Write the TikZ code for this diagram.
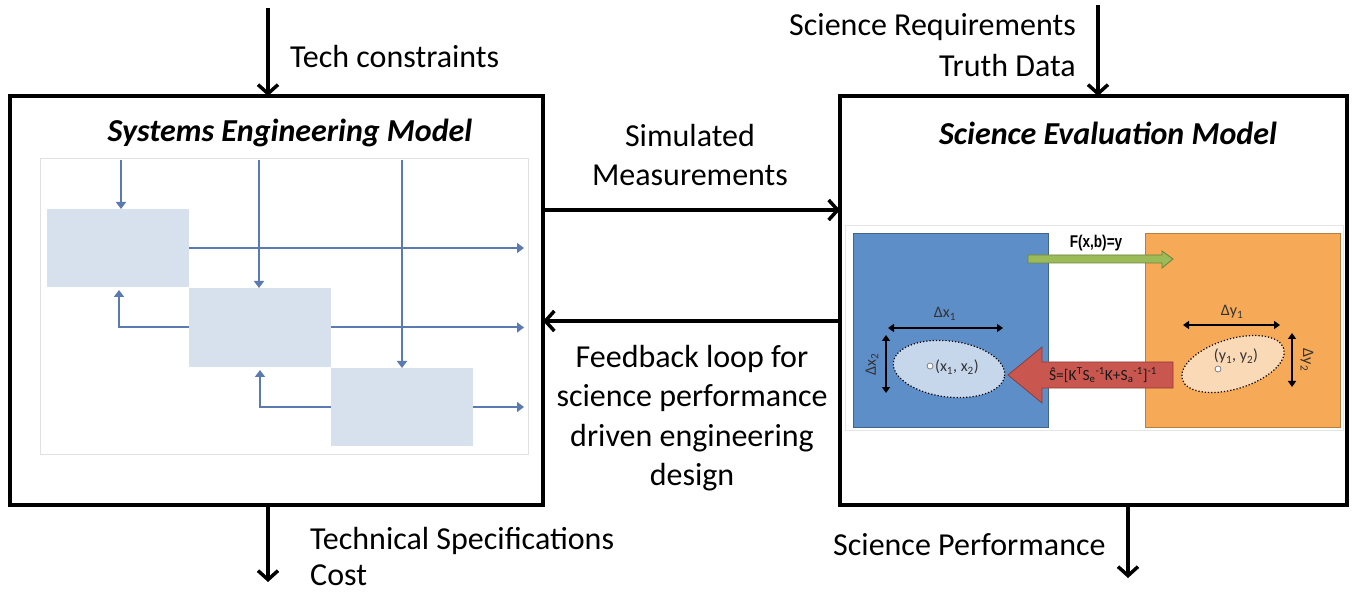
\documentclass[tikz,border=0pt]{standalone}
\usepackage{fontspec}
\setmainfont{Carlito}
\newfontfamily\arialf{Liberation Sans}
\usetikzlibrary{arrows.meta,shapes.geometric}
\definecolor{blkblue}{HTML}{D7E1EE}
\definecolor{arrblue}{HTML}{5B7BB0}
\definecolor{panelblue}{HTML}{5E8EC8}
\definecolor{panelorange}{HTML}{F6A957}
\definecolor{arrgreen}{HTML}{9BBB59}
\definecolor{arrred}{HTML}{C9574F}
\definecolor{ellblue}{HTML}{C6D6EB}
\definecolor{ellorange}{HTML}{FAD9B6}
\definecolor{txtgray}{HTML}{333333}
\begin{document}
\begin{tikzpicture}[x=1pt,y=-1pt,
  bigbox/.style={draw=black,line width=4pt,anchor=north west,inner sep=0pt,outer sep=0pt},
  bigarr/.style={line width=3.5pt,-{Straight Barb[length=9pt,width=20pt,line width=3.5pt]}},
  lbl/.style={font=\fontsize{32}{39.3}\selectfont,inner sep=0pt},
  ttl/.style={font=\fontsize{32}{36}\selectfont\bfseries\itshape,inner sep=0pt},
  blk/.style={fill=blkblue,anchor=north west,inner sep=0pt,outer sep=0pt,minimum width=142pt},
  sarr/.style={draw=arrblue,line width=2pt,-{Triangle[length=7pt,width=10pt]}},
  panel/.style={anchor=north west,inner sep=0pt,outer sep=0pt,minimum width=195pt,minimum height=194pt},
  darr/.style={line width=1.8pt,{Triangle[length=6pt,width=8pt]}-{Triangle[length=6pt,width=8pt]}},
  small/.style={font=\fontsize{16}{18}\selectfont,inner sep=0pt,text=txtgray},
  ell/.style={ellipse,draw=black,dotted,line width=1.2pt},
  dot/.style={circle,draw=gray,fill=white,inner sep=0pt,minimum size=6pt,line width=0.8pt}
]
\useasboundingbox[fill=white] (0,0) rectangle (1357,593);

% main boxes
\node[bigbox,minimum width=533pt,minimum height=409pt] (sem) at (10,96) {};
\node[bigbox,minimum width=507pt,minimum height=409pt] (sev) at (840,96) {};
\node[ttl] (semt) at (290,133) {Systems Engineering Model};
\node[ttl] (sevt) at (1108,133) {Science Evaluation Model};

% top inputs
\coordinate (tin1) at (268,8);
\coordinate (tin2) at (1098,5);
\draw[bigarr] (tin1) -- (tin1 |- sem.north);
\draw[bigarr] (tin2) -- (tin2 |- sev.north);
\node[lbl,anchor=west] (tc) at (290,57) {Tech constraints};
\node[lbl,anchor=east] (sr) at (1076,27) {Science Requirements};
\node[lbl,anchor=east] (td) at (1076,66) {Truth Data};

% bottom outputs
\coordinate (bo1) at (268,582);
\coordinate (bo2) at (1128,578);
\draw[bigarr] (bo1 |- sem.south) -- (bo1);
\draw[bigarr] (bo2 |- sev.south) -- (bo2);
\node[lbl,font=\fontsize{32}{36}\selectfont,anchor=west,align=left] (ts) at (310,557) {Technical Specifications\\Cost};
\node[lbl,anchor=west] (sp) at (833,545) {Science Performance};

% middle connectors
\coordinate (m1) at (0,210);
\coordinate (m2) at (0,321);
\draw[bigarr] (sem.east |- m1) -- (sev.west |- m1);
\draw[bigarr] (sev.west |- m2) -- (sem.east |- m2);
\node[lbl,align=center] (simm) at (690,155) {Simulated\\Measurements};
\node[lbl,align=center] (fb) at (692,418) {Feedback loop for\\science performance\\driven engineering\\design};

% left inner image
\node[draw=black!12,fill=white,anchor=north west,inner sep=0pt,minimum width=488pt,minimum height=296pt] (limg) at (40,158) {};
\node[blk,minimum height=78pt] (b1) at (47,209) {};
\node[blk,minimum height=79pt] (b2) at (189,288) {};
\node[blk,minimum height=78pt] (b3) at (331,368) {};
\coordinate (v1) at (121,160);
\coordinate (v2) at (259,160);
\coordinate (v3) at (402,160);
\draw[sarr] (v1) -- (v1 |- b1.north);
\draw[sarr] (v2) -- (v2 |- b2.north);
\draw[sarr] (v3) -- (v3 |- b3.north);
\coordinate (oe) at (524,0);
\draw[sarr] (b1.east) -- (b1.east -| oe);
\draw[sarr] (b2.east) -- (b2.east -| oe);
\draw[sarr] (b3.east) -- (b3.east -| oe);
\coordinate (f1) at (119,290);
\coordinate (f2) at (260,370);
\draw[sarr] (b2.west) -| (f1);
\draw[sarr] (b3.west) -| (f2);

% right inner image
\node[draw=black!10,fill=white,anchor=north west,inner sep=0pt,minimum width=498pt,minimum height=205pt] (rimg) at (845,225) {};
\node[panel,fill=panelblue,draw=panelblue!70!black] (pb) at (853,233) {};
\node[panel,fill=panelorange,draw=panelorange!75!black] (po) at (1145,233) {};

\node[font=\arialf\bfseries\fontsize{17}{19}\selectfont,inner sep=0pt,xscale=0.8,transform shape] (fxb) at (1096,243) {F(x,b)=y};
\filldraw[fill=arrgreen,draw=arrgreen!70!black,line width=0.8pt]
  (1028,255) -- (1162,255) -- (1162,251) -- (1173,259) -- (1162,268) -- (1162,263) -- (1028,263) -- cycle;
\filldraw[fill=arrred,draw=arrred!70!black,line width=0.8pt]
  (1173,362) -- (1042,362) -- (1042,347) -- (1008,375) -- (1042,403) -- (1042,388) -- (1173,388) -- cycle;
\node[font=\fontsize{15.5}{17}\selectfont,inner sep=0pt,text=black!90] (form) at (1103,375)
  {Ŝ=[K\textsuperscript{T}S\textsubscript{e}\textsuperscript{-1}K+S\textsubscript{a}\textsuperscript{-1}]\textsuperscript{-1}};

% blue ellipse
\node[ell,fill=ellblue,minimum width=112pt,minimum height=56pt,rotate=-7] (e1) at (949,369) {};
\node[dot] (c1) at (930,366) {};
\node[small,anchor=west] (x12) at (935,367) {(x\textsubscript{1}, x\textsubscript{2})};
\coordinate (dx1a) at (888,328);
\coordinate (dx1b) at (1003,328);
\draw[darr] (dx1a) -- (dx1b);
\node[small] (dx1) at (945,314) {Δx\textsubscript{1}};
\coordinate (dx2a) at (886,335);
\coordinate (dx2b) at (886,393);
\draw[darr] (dx2a) -- (dx2b);
\node[small,rotate=90] (dx2) at (872,364) {Δx\textsubscript{2}};

% orange ellipse
\node[ell,fill=ellorange,minimum width=106pt,minimum height=50pt,rotate=17] (e2) at (1233,364) {};
\node[dot] (c2) at (1218,369) {};
\node[small] (y12) at (1236,356) {(y\textsubscript{1}, y\textsubscript{2})};
\coordinate (dy1a) at (1183,325);
\coordinate (dy1b) at (1280,325);
\draw[darr] (dy1a) -- (dy1b);
\node[small] (dy1) at (1232,312) {Δy\textsubscript{1}};
\coordinate (dy2a) at (1292,333);
\coordinate (dy2b) at (1292,387);
\draw[darr] (dy2a) -- (dy2b);
\node[small,rotate=-90] (dy2) at (1307,360) {Δy\textsubscript{2}};
\end{tikzpicture}
\end{document}
